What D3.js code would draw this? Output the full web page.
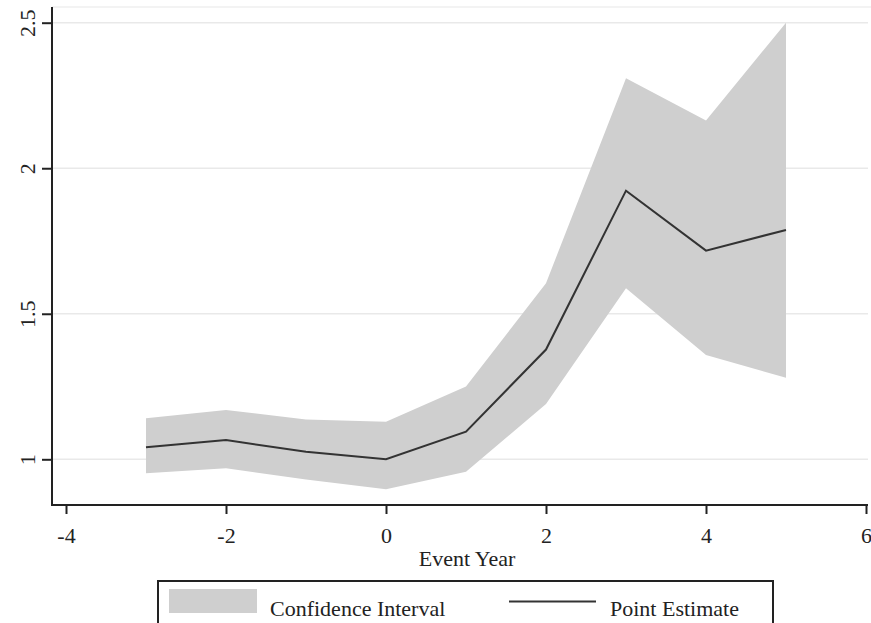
<!DOCTYPE html>
<html>
<head>
<meta charset="utf-8">
<script src="https://cdn.jsdelivr.net/npm/d3@7"></script>
<style>
  html, body { margin: 0; padding: 0; background: #fff; }
  svg { display: block; }
  text { font-family: "Liberation Serif", "Times New Roman", serif; fill: #222; }
</style>
</head>
<body>
<svg id="chart" width="871" height="623"></svg>
<script>
// ---- data ----
const years = [-3, -2, -1, 0, 1, 2, 3, 4, 5];
const estimate = [1.041, 1.066, 1.026, 1.0, 1.095, 1.377, 1.923, 1.717, 1.788];
const upper = [1.141, 1.169, 1.137, 1.129, 1.250, 1.605, 2.309, 2.164, 2.500];
const lower = [0.952, 0.969, 0.931, 0.897, 0.957, 1.190, 1.588, 1.358, 1.280];
const xTicks = [-4, -2, 0, 2, 4, 6];
const yTicks = [1, 1.5, 2, 2.5];
const yTickLabels = ["1", "1.5", "2", "2.5"];
const xTitle = "Event Year";
const legendLabels = ["Confidence Interval", "Point Estimate"];

// ---- layout ----
const svg = d3.select("#chart");
const plotLeft = 52, plotRight = 868, plotTop = 7, plotBottom = 505;
const x = d3.scaleLinear().domain([-4, 6]).range([66, 866]);
const y = d3.scaleLinear().domain([1, 2.5]).range([459.3, 22.7]);

const rows = years.map((yr, i) => ({ yr, est: estimate[i], lo: lower[i], hi: upper[i] }));

// top faint border
svg.append("line")
  .attr("x1", plotLeft).attr("x2", 871)
  .attr("y1", plotTop).attr("y2", plotTop)
  .attr("stroke", "#efefef").attr("stroke-width", 1.5);

// gridlines
svg.append("g").selectAll("line").data(yTicks).join("line")
  .attr("x1", plotLeft).attr("x2", plotRight)
  .attr("y1", d => y(d)).attr("y2", d => y(d))
  .attr("stroke", "#e9e9e9").attr("stroke-width", 1.5);

// confidence band
const area = d3.area()
  .x(d => x(d.yr))
  .y0(d => y(d.lo))
  .y1(d => y(d.hi));
svg.append("path").datum(rows)
  .attr("d", area)
  .attr("fill", "#cfcfcf");

// point estimate line
const line = d3.line().x(d => x(d.yr)).y(d => y(d.est));
svg.append("path").datum(rows)
  .attr("d", line)
  .attr("fill", "none")
  .attr("stroke", "#333")
  .attr("stroke-width", 2);

// x axis
const xAxis = svg.append("g")
  .attr("transform", `translate(0,${plotBottom})`)
  .call(d3.axisBottom(x).tickValues(xTicks).tickSize(9).tickFormat(d3.format("d")));
xAxis.select(".domain").remove();
xAxis.selectAll(".tick line").attr("stroke", "#222").attr("stroke-width", 2);
xAxis.selectAll(".tick text")
  .attr("y", 38).attr("dy", null)
  .attr("font-size", 22)
  .style("font-family", "'Liberation Serif', serif")
  .attr("fill", "#222")
  .text(d => d < 0 ? "-" + Math.abs(d) : String(d));
svg.append("line")
  .attr("x1", plotLeft - 1).attr("x2", plotRight)
  .attr("y1", plotBottom).attr("y2", plotBottom)
  .attr("stroke", "#222").attr("stroke-width", 2);

// y axis
const yAxis = svg.append("g")
  .attr("transform", `translate(${plotLeft},0)`)
  .call(d3.axisLeft(y).tickValues(yTicks).tickSize(10).tickFormat((d, i) => yTickLabels[i]));
yAxis.select(".domain").remove();
yAxis.selectAll(".tick line").attr("stroke", "#222").attr("stroke-width", 2);
yAxis.selectAll(".tick text")
  .attr("x", null).attr("dy", null)
  .attr("text-anchor", "middle")
  .attr("transform", "translate(-17,0) rotate(-90)")
  .attr("font-size", 22)
  .style("font-family", "'Liberation Serif', serif")
  .attr("fill", "#222");
svg.append("line")
  .attr("x1", plotLeft).attr("x2", plotLeft)
  .attr("y1", plotTop).attr("y2", plotBottom + 1)
  .attr("stroke", "#222").attr("stroke-width", 2);

// x title
svg.append("text")
  .attr("x", 467).attr("y", 566)
  .attr("text-anchor", "middle")
  .attr("font-size", 22)
  .text(xTitle);

// legend
const lg = svg.append("g");
lg.append("rect")
  .attr("x", 158).attr("y", 581)
  .attr("width", 615).attr("height", 60)
  .attr("fill", "#fff").attr("stroke", "#222").attr("stroke-width", 2);
lg.append("rect")
  .attr("x", 169).attr("y", 589)
  .attr("width", 88).attr("height", 24)
  .attr("fill", "#cfcfcf");
lg.append("text")
  .attr("x", 270).attr("y", 616)
  .attr("font-size", 22)
  .text(legendLabels[0]);
lg.append("line")
  .attr("x1", 509).attr("x2", 596)
  .attr("y1", 601.5).attr("y2", 601.5)
  .attr("stroke", "#333").attr("stroke-width", 2);
lg.append("text")
  .attr("x", 610).attr("y", 616)
  .attr("font-size", 22)
  .text(legendLabels[1]);
</script>
</body>
</html>
